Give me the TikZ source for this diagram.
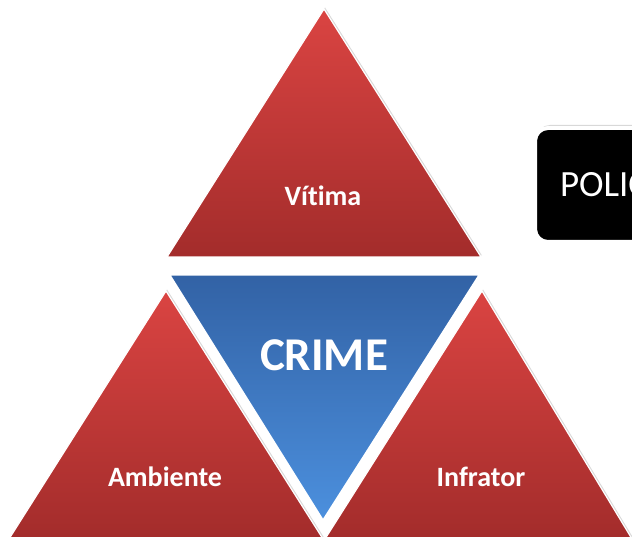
\documentclass[tikz,border=0pt]{standalone}
\usepackage{fontspec}
\setmainfont{Carlito}[Ligatures=NoCommon]
\usetikzlibrary{positioning,shadows}

\definecolor{redtop}{RGB}{218,68,66}
\definecolor{redbot}{RGB}{163,44,43}
\definecolor{bluetop}{RGB}{50,98,165}
\definecolor{bluebot}{RGB}{76,144,222}

\begin{document}
\begin{tikzpicture}[x=1pt,y=-1pt]
    \tikzstyle{redface}=[top color=redtop,bottom color=redbot,draw=white,line width=1.2,
        drop shadow={opacity=0.3,shadow xshift=1,shadow yshift=-1.5}]
    \tikzstyle{blueface}=[top color=bluetop,bottom color=bluebot,draw=white,line width=3.5,
        drop shadow={opacity=0.3,shadow xshift=1,shadow yshift=-1.5}]
    \tikzstyle{facetext}=[text=white,font=\bfseries\fontsize{28}{32}\selectfont]
    \tikzstyle{policebox}=[fill=black,draw=white,line width=4,rounded corners=13,
        minimum height=114,minimum width=200,text width=175,align=left,inner xsep=25,
        text=white,font=\fontsize{37}{40}\selectfont,anchor=west,
        drop shadow={opacity=0.35,shadow xshift=2,shadow yshift=-3}]
    \useasboundingbox (0,0) rectangle (632,537);
    \clip (0,0) rectangle (632,537);
    {
        % bottom pair
        \path[redface] (166,291) -- (323,539) -- (9,539) -- cycle;
        \path[redface] (482,291) -- (632,539) -- (325,539) -- cycle;
        % top
        \path[redface] (324,9) -- (481,257) -- (167,257) -- cycle;
        % centre
        \path[blueface] (168,274) -- (481,274) -- (323,522) -- cycle;

        \node[facetext] (vitima) at (323,196) {Vítima};
        \node[facetext] (ambiente) at (165,477) {Ambiente};
        \node[facetext] (infrator) at (481,477) {Infrator};
        \node[facetext,font=\bfseries\fontsize{47}{50}\selectfont] (crime) at (324,355) {CRIME};

        \node[policebox] (policia) at (533,185) {POLIC};
    }
\end{tikzpicture}
\end{document}
